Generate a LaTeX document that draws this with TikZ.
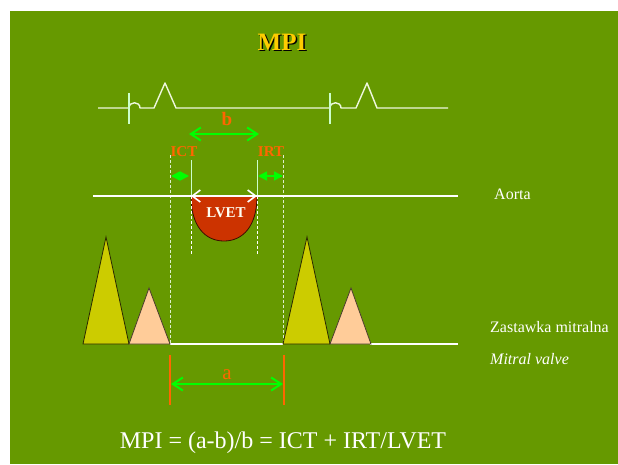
\documentclass[tikz,border=0pt]{standalone}
\usepackage{fontspec}
\setmainfont{Liberation Serif}
\usetikzlibrary{arrows.meta}
\definecolor{bggreen}{HTML}{669900}
\definecolor{orng}{HTML}{FF6600}
\definecolor{brightgreen}{HTML}{00FF00}
\definecolor{triyellow}{HTML}{CCCC00}
\definecolor{peach}{HTML}{FFCC99}
\definecolor{lvetred}{HTML}{CC3300}
\definecolor{titleyellow}{HTML}{FFCC00}
\definecolor{paleline}{HTML}{CCFFCC}
\definecolor{dashline}{HTML}{DDEECC}
\definecolor{ecgline}{HTML}{EEF7DD}
\tikzset{
  ecg/.style={ecgline, line width=1.4pt, line join=round},
  tick/.style={paleline, line width=1.2pt},
  baseline/.style={white, line width=2pt},
  guide/.style={dashline, line width=1pt, dash pattern=on 3pt off 2pt},
  guidesolid/.style={paleline, line width=1pt},
  garrow/.style={brightgreen, line width=2pt, {Straight Barb[length=10pt,width=13pt]}-{Straight Barb[length=10pt,width=13pt]}},
  smallarrow/.style={brightgreen, line width=1.5pt, {Triangle[length=9pt,width=9pt]}-{Triangle[length=9pt,width=9pt]}},
  warrow/.style={white, line width=1.6pt, {Straight Barb[length=8pt,width=12pt]}-{Straight Barb[length=8pt,width=12pt]}},
  obar/.style={orng, line width=2.5pt},
  lbl/.style={text=orng, font=\bfseries\fontsize{15}{17}\selectfont, inner sep=0pt},
  sidetext/.style={text=white, font=\fontsize{16}{19}\selectfont, anchor=west, inner sep=0pt},
  yellowtri/.style={fill=triyellow, draw=black!80!triyellow, line width=0.8pt, line join=miter},
  peachtri/.style={fill=peach, draw=black!70!peach, line width=0.8pt, line join=miter},
}
\begin{document}
\begin{tikzpicture}[x=1pt,y=-1pt]
\useasboundingbox (0,0) rectangle (618,464);
\fill[white] (0,0) rectangle (618,464);
\fill[bggreen] (10,11) rectangle (618,464);

% title
\node[text=black, font=\bfseries\fontsize{25}{28}\selectfont, inner sep=0pt] (titleshadow) at (283.5,43.5) {MPI};
\node[text=titleyellow, font=\bfseries\fontsize{25}{28}\selectfont, inner sep=0pt] (title) at (282,42) {MPI};

% ECG trace
\draw[ecg] (98,108) -- (129,108) .. controls (129,101) and (140,101) .. (140,108)
  -- (154,108) -- (165,83) -- (176,108) -- (330,108)
  .. controls (330,101) and (341,101) .. (341,108)
  -- (356,108) -- (367,83) -- (377,108) -- (448,108);
\coordinate (t1a) at (129,93); \coordinate (t1b) at (129,124);
\coordinate (t2a) at (330,93); \coordinate (t2b) at (330,124);
\draw[tick] (t1a) -- (t1b);
\draw[tick] (t2a) -- (t2b);

% b arrow
\coordinate (bL) at (189,134); \coordinate (bR) at (259,134);
\draw[garrow] (bL) -- (bR);
\node[text=orng, font=\bfseries\fontsize{19}{22}\selectfont, inner sep=0pt] (blbl) at (227,119) {b};

% ICT / IRT labels
\node[lbl] (ict) at (184,152) {ICT};
\node[lbl] (irt) at (271,152) {IRT};

% guide lines
\coordinate (g1t) at (170,155); \coordinate (g1b) at (170,344);
\coordinate (g2t) at (283,155); \coordinate (g2b) at (283,344);
\draw[guide] (g1t) -- (g1b);
\draw[guide] (g2t) -- (g2b);
\coordinate (s1t) at (191,160); \coordinate (s1m) at (191,196); \coordinate (s1b) at (191,255);
\coordinate (s2t) at (257,160); \coordinate (s2m) at (257,196); \coordinate (s2b) at (257,255);

% LVET shape
\fill[lvetred] (191,196) .. controls (191,226) and (205,241) .. (224,241)
  .. controls (243,241) and (257,226) .. (257,196) -- cycle;
\draw[black!70!lvetred, line width=0.8pt] (191,196) .. controls (191,226) and (205,241) .. (224,241)
  .. controls (243,241) and (257,226) .. (257,196);

\draw[guidesolid] (s1t) -- (s1m);
\draw[guidesolid] (s2t) -- (s2m);
\draw[guide, white] (s1m) -- (s1b);
\draw[guide, white] (s2m) -- (s2b);

% ICT / IRT arrows
\coordinate (ictL) at (171,176); \coordinate (ictR) at (189,176);
\coordinate (irtL) at (258,176); \coordinate (irtR) at (283,176);
\draw[smallarrow] (ictL) -- (ictR);
\draw[smallarrow] (irtL) -- (irtR);

% aorta line
\coordinate (aoL) at (93,196); \coordinate (aoR) at (458,196);
\draw[baseline] (aoL) -- (aoR);
\draw[warrow] (s1m) -- (s2m);
\node[text=white!95!yellow, font=\bfseries\fontsize{15}{18}\selectfont, inner sep=0pt] (lvet) at (226,213) {LVET};
\node[sidetext] (aorta) at (494,194) {Aorta};

% mitral valve baseline
\coordinate (mv1L) at (170,344); \coordinate (mv1R) at (283,344);
\coordinate (mv2L) at (370,344); \coordinate (mv2R) at (458,344);
\draw[baseline] (mv1L) -- (mv1R);
\draw[baseline] (mv2L) -- (mv2R);

% E and A waves
\draw[yellowtri] (83,344) -- (106,237) -- (129,344) -- cycle;
\draw[peachtri] (129,344) -- (149,288) -- (170,344) -- cycle;
\draw[yellowtri] (283,344) -- (307,237) -- (330,344) -- cycle;
\draw[peachtri] (330,344) -- (351,288) -- (371,344) -- cycle;

\node[sidetext] (zast) at (490,327) {Zastawka mitralna};
\node[sidetext, font=\itshape\fontsize{16}{19}\selectfont] (mitral) at (490,359) {Mitral valve};

% a interval
\coordinate (a1t) at (170,355); \coordinate (a1b) at (170,405);
\coordinate (a2t) at (284,355); \coordinate (a2b) at (284,405);
\draw[obar] (a1t) -- (a1b);
\draw[obar] (a2t) -- (a2b);
\coordinate (aL) at (171,384); \coordinate (aR) at (283,384);
\draw[garrow] (aL) -- (aR);
\node[text=orng, font=\fontsize{21}{24}\selectfont, inner sep=0pt] (albl) at (227,375) {a};

% formula
\node[text=white, font=\fontsize{24}{28}\selectfont, inner sep=0pt] (formula) at (283,443) {MPI = (a-b)/b = ICT + IRT/LVET};
\end{tikzpicture}
\end{document}
